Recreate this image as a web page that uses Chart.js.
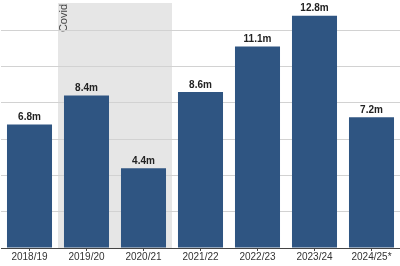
<!DOCTYPE html>
<html>
<head>
<meta charset="utf-8">
<script src="https://cdn.jsdelivr.net/npm/chart.js@4"></script>
<style>
html,body{margin:0;padding:0;background:#fff;}
#wrap{width:400px;height:266px;position:relative;}
</style>
</head>
<body>
<div id="wrap"><canvas id="c" width="400" height="266"></canvas></div>
<script>
const categories = ["2018/19","2019/20","2020/21","2021/22","2022/23","2023/24","2024/25*"];
const values = [6.8, 8.4, 4.4, 8.6, 11.1, 12.8, 7.2];
const valueLabels = ["6.8m","8.4m","4.4m","8.6m","11.1m","12.8m","7.2m"];
const yTicks = [0, 2, 4, 6, 8, 10, 12];
const shadeCategories = ["2019/20","2020/21"];
const shadeLabel = "Covid";

const shadePlugin = {
  id: 'shade',
  beforeDraw(chart) {
    const ctx = chart.ctx, x = chart.scales.x, area = chart.chartArea;
    const i0 = categories.indexOf(shadeCategories[0]);
    const i1 = categories.indexOf(shadeCategories[shadeCategories.length-1]);
    const half = (x.getPixelForValue(1) - x.getPixelForValue(0)) / 2;
    const left = x.getPixelForValue(i0) - half;
    const right = x.getPixelForValue(i1) + half;
    ctx.save();
    ctx.fillStyle = '#e6e6e6';
    ctx.fillRect(left, area.top, right - left, area.bottom - area.top);
    ctx.translate(left + 9, area.top);
    ctx.rotate(-Math.PI/2);
    ctx.fillStyle = '#444';
    ctx.font = '11px "Liberation Sans", Arial, sans-serif';
    ctx.textAlign = 'right';
    ctx.textBaseline = 'alphabetic';
    ctx.fillText(shadeLabel, -1, 0);
    ctx.restore();
  }
};

const labelPlugin = {
  id: 'vlabels',
  afterDatasetsDraw(chart) {
    const ctx = chart.ctx;
    const meta = chart.getDatasetMeta(0);
    ctx.save();
    ctx.fillStyle = '#222';
    ctx.font = 'bold 10px "Liberation Sans", Arial, sans-serif';
    ctx.textAlign = 'center';
    ctx.textBaseline = 'middle';
    meta.data.forEach((bar, i) => {
      ctx.fillText(valueLabels[i], bar.x, bar.y - 7);
    });
    ctx.restore();
  }
};

new Chart(document.getElementById('c'), {
  type: 'bar',
  data: {
    labels: categories,
    datasets: [{
      data: values,
      backgroundColor: '#2f5582',
      borderWidth: 0,
      barPercentage: 0.79,
      categoryPercentage: 1.0
    }]
  },
  options: {
    responsive: false,
    animation: false,
    devicePixelRatio: 1,
    layout: { padding: { left: 1, right: 0, top: 3, bottom: 3 } },
    plugins: { legend: { display: false }, tooltip: { enabled: false } },
    scales: {
      x: {
        grid: { display: true, drawOnChartArea: false, drawTicks: true, tickLength: 3, color: '#444', offset: false },
        border: { display: true, color: '#444', width: 1 },
        ticks: { color: '#333', font: { size: 10, family: '"Liberation Sans", Arial, sans-serif' }, padding: 0, maxRotation: 0, autoSkip: false }
      },
      y: {
        min: 0, max: 13.5,
        afterBuildTicks(scale) { scale.ticks = yTicks.map(v => ({ value: v })); },
        grid: { color: '#d2d2d2', drawTicks: false, lineWidth: 1 },
        border: { display: false },
        ticks: { display: false }
      }
    }
  },
  plugins: [shadePlugin, labelPlugin]
});
</script>
</body>
</html>
